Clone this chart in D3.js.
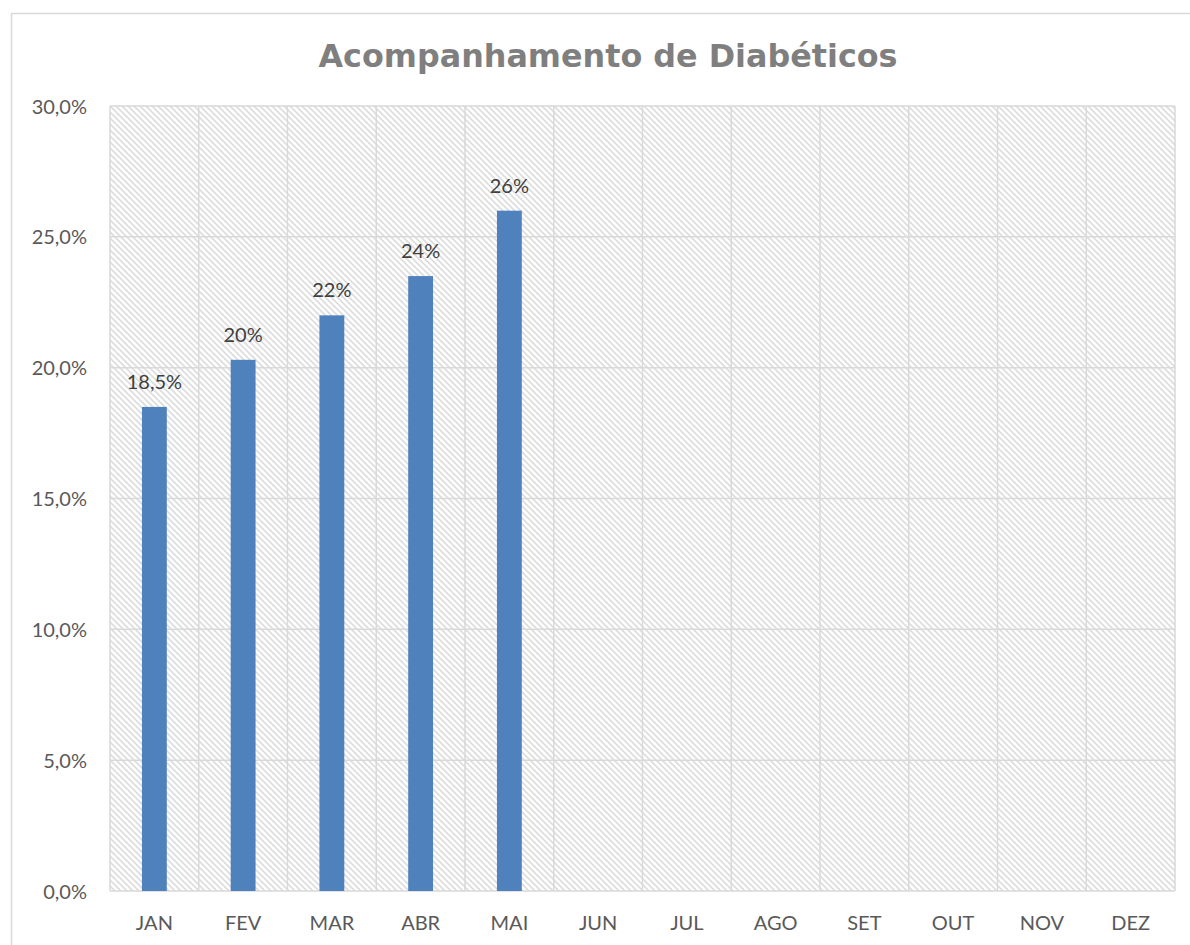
<!doctype html>
<html>
<head>
<meta charset="utf-8">
<title>Acompanhamento de Diabéticos</title>
<script src="https://d3js.org/d3.v7.min.js"></script>
<style>
  body { margin: 0; background: #fff; }
  .tick text { font-family: Lato, "Liberation Sans", Arial, sans-serif; font-size: 20px; fill: #595959; }
</style>
</head>
<body>
<script>
// data
var months = ['JAN', 'FEV', 'MAR', 'ABR', 'MAI', 'JUN', 'JUL', 'AGO', 'SET', 'OUT', 'NOV', 'DEZ'];
var values = [18.5, 20.3, 22.0, 23.5, 26.0, null, null, null, null, null, null, null];
var valueLabels = ['18,5%', '20%', '22%', '24%', '26%', '', '', '', '', '', '', ''];
var yTicks = [0, 5, 10, 15, 20, 25, 30];

var width = 1190, height = 945;
var margin = { top: 106, right: 15, bottom: 54, left: 110 };
var plotW = width - margin.left - margin.right;
var plotH = height - margin.top - margin.bottom;

var svg = d3.select('body').append('svg')
  .attr('width', width)
  .attr('height', height);

// hatch pattern for plot background
var defs = svg.append('defs');
var pat = defs.append('pattern')
  .attr('id', 'hatch')
  .attr('patternUnits', 'userSpaceOnUse')
  .attr('width', 6)
  .attr('height', 6);
pat.append('path')
  .attr('d', 'M-1,-1 L7,7 M-1,5 L1,7 M5,-1 L7,1')
  .attr('stroke', '#dcdcdc')
  .attr('stroke-width', 1.6);

// chart frame
svg.append('rect')
  .attr('x', 11.5).attr('y', 13.5)
  .attr('width', width).attr('height', height)
  .attr('fill', '#fff')
  .attr('stroke', '#d9d9d9')
  .attr('stroke-width', 1.5);

// title
svg.append('text')
  .attr('x', 608)
  .attr('y', 67)
  .attr('text-anchor', 'middle')
  .style('font-family', '"DejaVu Sans", Verdana, sans-serif')
  .style('font-weight', 'bold')
  .style('font-size', '31.8px')
  .attr('fill', '#7f7f7f')
  .text('Acompanhamento de Diabéticos');

var g = svg.append('g')
  .attr('transform', 'translate(' + margin.left + ',' + margin.top + ')');

var x = d3.scaleBand()
  .domain(months)
  .range([0, plotW])
  .paddingInner(0.72)
  .paddingOuter(0.36);

var xGrid = d3.scaleLinear()
  .domain([0, months.length])
  .range([0, plotW]);

var y = d3.scaleLinear()
  .domain([0, 30])
  .range([plotH, 0]);

g.append('rect')
  .attr('width', plotW)
  .attr('height', plotH)
  .attr('fill', 'url(#hatch)');

// horizontal gridlines
g.selectAll('.hgrid')
  .data(yTicks)
  .enter().append('line')
  .attr('class', 'hgrid')
  .attr('x1', 0).attr('x2', plotW)
  .attr('y1', function(d) { return y(d); })
  .attr('y2', function(d) { return y(d); })
  .attr('stroke', '#d9d9d9')
  .attr('stroke-width', 1.5);

// vertical gridlines
g.selectAll('.vgrid')
  .data(d3.range(months.length + 1))
  .enter().append('line')
  .attr('class', 'vgrid')
  .attr('x1', function(d) { return xGrid(d); })
  .attr('x2', function(d) { return xGrid(d); })
  .attr('y1', 0).attr('y2', plotH)
  .attr('stroke', '#d9d9d9')
  .attr('stroke-width', 1.5);

// y axis
var yAxis = d3.axisLeft(y)
  .tickValues(yTicks)
  .tickSize(0)
  .tickPadding(23)
  .tickFormat(function(d) { return d.toFixed(1).replace('.', ',') + '%'; });
g.append('g').call(yAxis)
  .call(function(s) { s.select('.domain').remove(); })
  .selectAll('text').attr('dy', '0.35em');

// x axis
var xAxis = d3.axisBottom(x)
  .tickSize(0)
  .tickPadding(25);
g.append('g')
  .attr('transform', 'translate(0,' + plotH + ')')
  .call(xAxis)
  .call(function(s) { s.select('.domain').remove(); });

var barData = months.map(function(m, i) { return { m: m, v: values[i], label: valueLabels[i] }; })
  .filter(function(d) { return d.v != null; });

// bars
g.selectAll('.bar')
  .data(barData)
  .enter().append('rect')
  .attr('class', 'bar')
  .attr('x', function(d) { return x(d.m); })
  .attr('width', x.bandwidth())
  .attr('y', function(d) { return y(d.v); })
  .attr('height', function(d) { return plotH - y(d.v); })
  .attr('fill', '#4f81bd');

// value labels
g.selectAll('.vlabel')
  .data(barData)
  .enter().append('text')
  .attr('class', 'vlabel')
  .attr('x', function(d) { return x(d.m) + x.bandwidth() / 2; })
  .attr('y', function(d) { return y(d.v) - 18; })
  .attr('text-anchor', 'middle')
  .style('font-family', 'Lato, "Liberation Sans", Arial, sans-serif')
  .style('font-size', '20px')
  .attr('fill', '#404040')
  .text(function(d) { return d.label; });
</script>
</body>
</html>
